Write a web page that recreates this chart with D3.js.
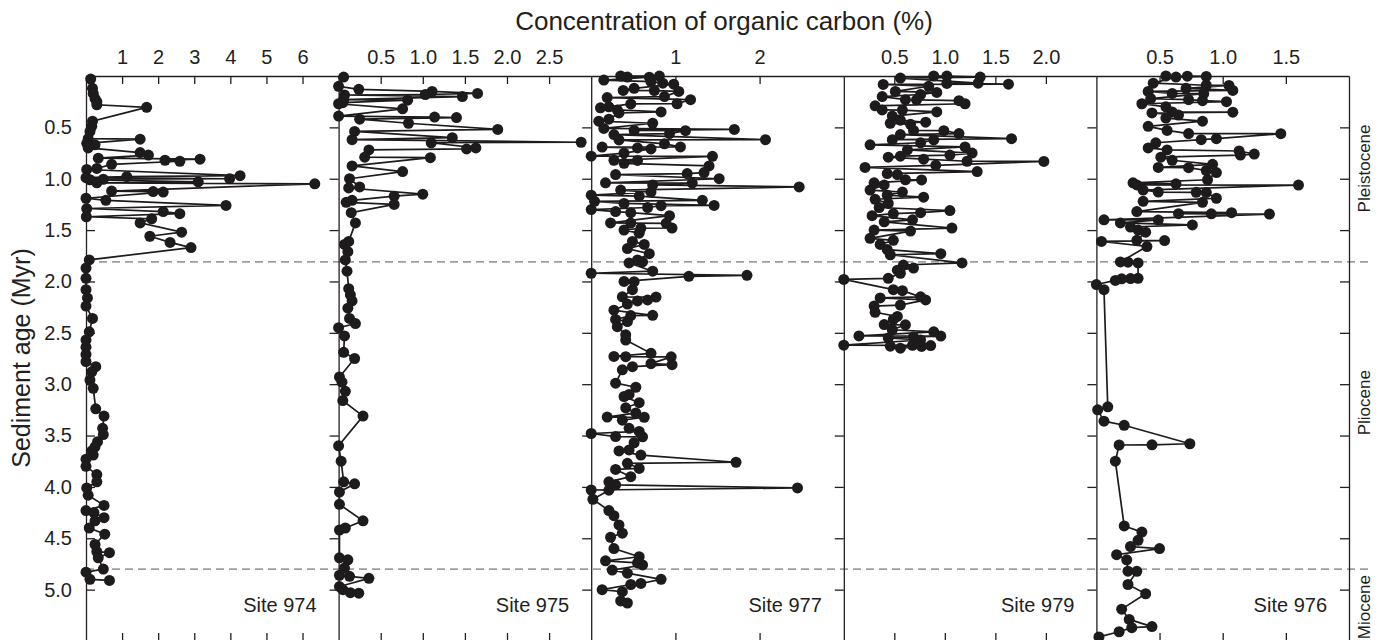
<html>
<script src="https://d3js.org/d3.v7.min.js"></script>
<body>
<style>
  body { margin: 0; background: #fff; font-family: "Liberation Sans", Arial, sans-serif; }
  text { fill: #231f20; }
</style>
<svg width=1382 height=640></svg>
<script>

// [age (Myr), organic carbon (%)]
var site974 = [[0.03,0.13],[0.12,0.18],[0.17,0.2],[0.22,0.25],[0.25,0.3],[0.28,0.3],[0.305,1.68],[0.44,0.18],[0.49,0.16],[0.54,0.11],[0.61,0.06],[0.615,1.5],[0.655,0.02],[0.67,0.25],[0.70,0.06],[0.745,1.5],[0.77,1.73],[0.80,0.34],[0.81,3.16],[0.82,2.19],[0.83,2.6],[0.86,0.71],[0.90,0.3],[0.91,0.02],[0.97,4.27],[0.98,1.13],[0.99,0],[1.0,3.98],[1.005,0.48],[1.01,0.11],[1.03,3.11],[1.04,0.3],[1.05,6.34],[1.12,0.71],[1.125,1.86],[1.13,2.14],[1.19,0],[1.21,0.55],[1.26,3.88],[1.29,0.02],[1.32,2.14],[1.34,2.6],[1.37,0.01],[1.39,1.82],[1.43,1.5],[1.52,2.65],[1.56,1.77],[1.62,2.33],[1.67,2.91],[1.79,0.09],[1.87,0],[1.97,0],[2.08,0],[2.16,0.04],[2.24,0],[2.36,0.18],[2.49,0.09],[2.57,0],[2.64,0],[2.71,0],[2.78,0],[2.83,0.27],[2.88,0.16],[2.96,0.11],[3.04,0.2],[3.24,0.27],[3.31,0.5],[3.43,0.46],[3.49,0.48],[3.56,0.32],[3.61,0.25],[3.65,0.16],[3.69,0.2],[3.73,0],[3.80,0],[3.88,0.3],[3.95,0.3],[4.01,0.02],[4.08,0.06],[4.18,0.5],[4.23,0],[4.25,0.22],[4.30,0.5],[4.33,0.25],[4.40,0.09],[4.46,0.52],[4.56,0.25],[4.63,0.3],[4.64,0.65],[4.69,0.34],[4.80,0.48],[4.83,0],[4.90,0.11],[4.91,0.65]];

var site975 = [[0.01,0.06],[0.10,0],[0.13,0.24],[0.15,1.11],[0.17,1.65],[0.18,1.03],[0.185,0.07],[0.20,1.47],[0.23,0.06],[0.235,0.82],[0.26,0.05],[0.27,0],[0.32,0.76],[0.39,0],[0.40,1.14],[0.405,1.40],[0.42,0.25],[0.46,0.83],[0.52,1.89],[0.54,0.19],[0.60,1.35],[0.62,0.16],[0.645,2.88],[0.65,1.10],[0.70,1.63],[0.71,1.52],[0.72,0.36],[0.79,0.31],[0.795,1.09],[0.875,0.16],[0.93,0.76],[1.0,0.13],[1.08,0.25],[1.09,0.12],[1.15,1.0],[1.17,0.66],[1.21,0.16],[1.23,0.09],[1.25,0.66],[1.33,0.15],[1.43,0.2],[1.61,0.12],[1.64,0.07],[1.71,0.11],[1.79,0.08],[1.90,0.10],[2.07,0.12],[2.13,0.14],[2.19,0.16],[2.26,0.11],[2.36,0.13],[2.41,0.2],[2.45,0],[2.53,0.07],[2.69,0.06],[2.75,0.19],[2.93,0.01],[2.98,0.04],[3.07,0.08],[3.16,0.05],[3.31,0.29],[3.60,0],[3.75,0.03],[3.95,0.06],[3.97,0.19],[4.05,0.01],[4.17,0.01],[4.33,0.29],[4.40,0.08],[4.42,0.01],[4.69,0.01],[4.71,0.11],[4.79,0.07],[4.86,0.01],[4.87,0.13],[4.89,0.36],[4.97,0.01],[5.0,0.05],[5.03,0.14],[5.035,0.24]];

var site977 = [[0.0,0.35],[0.01,0.43],[0.04,0.15],[0.012,0.69],[0.001,0.81],[0.055,0.71],[0.07,0.85],[0.08,0.98],[0.12,0.51],[0.14,0.38],[0.142,0.75],[0.15,1.04],[0.21,0.19],[0.23,1.18],[0.20,0.87],[0.27,1.02],[0.272,0.47],[0.31,0.11],[0.30,0.21],[0.33,0.31],[0.35,0.83],[0.36,0.33],[0.44,0.09],[0.42,0.21],[0.46,0.73],[0.51,0.15],[0.53,0.51],[0.532,1.12],[0.52,1.70],[0.56,0.93],[0.57,0.27],[0.62,2.07],[0.622,0.33],[0.66,0.87],[0.69,1.06],[0.692,0.13],[0.70,0.55],[0.71,0.71],[0.78,0],[0.75,0.39],[0.782,1.44],[0.82,0.27],[0.822,0.55],[0.875,1.40],[0.85,0.39],[0.94,1.34],[0.96,0.29],[0.95,1.14],[1.0,1.52],[1.04,0.17],[1.042,1.20],[1.06,0.73],[1.08,2.47],[1.11,0.35],[1.13,0.71],[1.16,0],[1.17,0.57],[1.21,1.32],[1.22,0.04],[1.30,0],[1.24,0.39],[1.28,0.67],[1.26,1.46],[1.262,0.83],[1.32,0.29],[1.33,0.47],[1.36,0.93],[1.43,0.23],[1.432,0.47],[1.434,0.89],[1.48,0.96],[1.482,0.59],[1.50,0.39],[1.53,0.57],[1.61,0.49],[1.64,0.63],[1.68,0.43],[1.73,0.69],[1.79,0.55],[1.82,0.45],[1.81,0.61],[1.92,0],[1.90,0.73],[1.95,1.16],[1.94,1.85],[2.0,0.39],[2.002,0.51],[2.08,0.49],[2.15,0.37],[2.152,0.77],[2.19,0.55],[2.22,0.43],[2.18,0.67],[2.28,0.27],[2.33,0.73],[2.332,0.47],[2.39,0.43],[2.37,0.29],[2.44,0.31],[2.52,0.41],[2.57,0.41],[2.73,0.27],[2.732,0.41],[2.70,0.71],[2.734,0.95],[2.80,0.71],[2.81,0.96],[2.83,0.49],[2.86,0.37],[2.99,0.29],[3.03,0.53],[3.12,0.39],[3.10,0.45],[3.18,0.57],[3.23,0.41],[3.28,0.53],[3.32,0.19],[3.322,0.63],[3.35,0.37],[3.43,0.45],[3.48,0],[3.51,0.29],[3.46,0.57],[3.512,0.61],[3.57,0.51],[3.65,0.33],[3.64,0.45],[3.69,0.59],[3.76,1.72],[3.77,0.43],[3.82,0.57],[3.83,0.29],[3.90,0.47],[3.95,0.21],[3.98,0.29],[4.01,2.45],[4.03,0],[4.032,0.21],[4.12,0.02],[4.23,0.21],[4.28,0.27],[4.37,0.33],[4.45,0.37],[4.49,0.23],[4.60,0.27],[4.68,0.57],[4.72,0.17],[4.74,0.55],[4.76,0.61],[4.81,0.25],[4.84,0.43],[4.90,0.83],[4.94,0.59],[4.95,0.47],[5.0,0.13],[5.02,0.37],[5.11,0.35],[5.13,0.43]];

var site979 = [[0.0,0.89],[0.001,1.02],[0.01,1.35],[0.02,0.56],[0.07,1.33],[0.072,1.02],[0.08,1.63],[0.082,0.39],[0.10,0.84],[0.15,0.51],[0.16,0.92],[0.18,0.76],[0.20,0.38],[0.23,0.61],[0.232,0.72],[0.24,1.14],[0.27,1.20],[0.29,0.31],[0.33,0.38],[0.332,0.58],[0.35,0.92],[0.39,0.48],[0.43,0.56],[0.45,0.81],[0.46,0.46],[0.47,0.66],[0.53,0.69],[0.532,0.99],[0.56,1.14],[0.57,0.56],[0.61,1.66],[0.62,0.48],[0.622,0.89],[0.65,0.76],[0.67,0.26],[0.69,1.20],[0.72,0.63],[0.75,1.27],[0.77,1.05],[0.78,0.56],[0.79,0.44],[0.81,0.79],[0.83,1.22],[0.832,1.98],[0.87,0.91],[0.89,0.21],[0.93,1.32],[0.95,0.43],[0.96,0.53],[1.01,0.61],[1.012,0.77],[1.04,0.30],[1.06,0.40],[1.11,0.26],[1.13,0.58],[1.16,0.43],[1.18,0.79],[1.20,0.31],[1.24,0.44],[1.28,0.35],[1.31,1.05],[1.33,0.76],[1.34,0.49],[1.36,0.28],[1.40,0.68],[1.42,0.40],[1.48,1.07],[1.50,0.30],[1.51,0.66],[1.58,0.26],[1.60,0.49],[1.64,0.36],[1.69,0.43],[1.73,0.96],[1.74,0.46],[1.82,1.17],[1.84,0.59],[1.87,0.69],[1.89,0.53],[1.92,0.56],[1.97,0.44],[1.98,0],[2.08,0.49],[2.09,0.58],[2.15,0.76],[2.16,0.36],[2.18,0.81],[2.23,0.56],[2.24,0.30],[2.30,0.31],[2.34,0.53],[2.37,0.49],[2.42,0.40],[2.422,0.61],[2.47,0.48],[2.49,0.89],[2.53,0.15],[2.532,0.96],[2.54,0.69],[2.55,0.44],[2.57,0.76],[2.62,0],[2.622,0.68],[2.624,0.86],[2.63,0.46],[2.632,0.77],[2.65,0.56]];

var site976 = [[0.0,0.55],[0.002,0.72],[0.004,0.87],[0.01,0.63],[0.07,0.45],[0.09,0.87],[0.092,1.05],[0.12,0.71],[0.14,1.08],[0.15,0.41],[0.17,0.60],[0.172,0.85],[0.22,0.43],[0.23,0.73],[0.24,0.84],[0.25,1.03],[0.27,0.36],[0.30,0.55],[0.35,0.60],[0.352,1.08],[0.36,0.44],[0.38,0.65],[0.41,0.55],[0.44,0.84],[0.49,0.41],[0.53,0.56],[0.56,0.73],[0.562,1.46],[0.61,0.95],[0.62,0.83],[0.65,0.47],[0.70,0.41],[0.72,0.56],[0.73,1.13],[0.76,1.25],[0.77,1.14],[0.79,0.51],[0.82,0.60],[0.86,0.92],[0.89,0.49],[0.892,0.73],[0.92,0.87],[0.94,0.95],[1.01,0.88],[1.04,0.29],[1.05,0.63],[1.06,0.32],[1.062,1.60],[1.11,0.37],[1.13,0.49],[1.132,0.79],[1.134,0.87],[1.19,0.95],[1.22,0.37],[1.23,0.84],[1.32,0.32],[1.33,1.07],[1.34,0.65],[1.342,0.91],[1.344,1.37],[1.40,0.06],[1.402,0.49],[1.43,0.19],[1.45,0.76],[1.47,0.27],[1.50,0.33],[1.52,0.39],[1.60,0.32],[1.602,0.54],[1.61,0.04],[1.66,0.40],[1.81,0.19],[1.812,0.25],[1.82,0.33],[1.97,0.33],[1.972,0.27],[1.974,0.20],[1.99,0.15],[2.03,0],[2.08,0.06],[3.22,0.09],[3.25,0.01],[3.36,0.06],[3.40,0.22],[3.58,0.74],[3.59,0.44],[3.592,0.18],[3.75,0.15],[4.38,0.22],[4.44,0.36],[4.52,0.33],[4.58,0.27],[4.60,0.50],[4.66,0.16],[4.71,0.24],[4.82,0.25],[4.822,0.32],[4.95,0.25],[5.04,0.39],[5.19,0.20],[5.29,0.26],[5.36,0.44],[5.37,0.28],[5.41,0.18],[5.46,0.02]];

var sites = ["Site 974", "Site 975", "Site 977", "Site 979", "Site 976"];
var siteData = [site974, site975, site977, site979, site976];
var tocMax = [7, 3, 3, 2.5, 2];
var tocTicks = [[1,2,3,4,5,6], [0.5,1,1.5,2,2.5], [1,2], [0.5,1,1.5,2], [0.5,1,1.5]];
var tocFormat = ["d", ".1f", "d", ".1f", ".1f"];
var ageTicks = [0.5,1,1.5,2,2.5,3,3.5,4,4.5,5];
var epochBounds = [1.81, 4.8];
var epochs = ["Pleistocene", "Pliocene", "Miocene"];
var epochMid = [0.9, 3.18, 5.17];

var ink = "#1e1b1c";
var font = "'Liberation Sans', Arial, sans-serif";

var svg = d3.select("svg");

var panel = d3.scaleBand().domain(sites).range([86, 1349]);
var y = d3.scaleLinear().domain([0, 5.5]).range([76, 641]);

function styleAxis(g, size) {
    g.attr("font-family", font).attr("font-size", size).attr("color", "#231f20");
    g.selectAll("line, path").attr("stroke-width", 1.3);
}

// epoch boundaries
svg.selectAll(".bound")
    .data(epochBounds)
    .enter().append("line")
    .attr("x1", 86).attr("x2", 1370)
    .attr("y1", function(d) { return y(d); })
    .attr("y2", function(d) { return y(d); })
    .attr("stroke", "#555").attr("stroke-width", 1)
    .attr("stroke-dasharray", "8,5");

// left axis with age labels
svg.append("g")
    .attr("transform", "translate(86,0)")
    .call(d3.axisLeft(y).tickValues(ageTicks).tickFormat(d3.format(".1f"))
        .tickSizeInner(-9).tickSizeOuter(0).tickPadding(14))
    .call(styleAxis, 20);

sites.forEach(function(name, i) {
    var x0 = panel(name), x1 = x0 + panel.bandwidth();
    var x = d3.scaleLinear().domain([0, tocMax[i]]).range([x0, x1]);

    svg.append("g")
        .attr("transform", "translate(0,76)")
        .call(d3.axisTop(x).tickValues(tocTicks[i]).tickFormat(d3.format(tocFormat[i]))
            .tickSizeInner(-8).tickSizeOuter(0).tickPadding(12))
        .call(styleAxis, 20);

    svg.append("g")
        .attr("transform", "translate(0,641)")
        .call(d3.axisBottom(x).tickValues(tocTicks[i]).tickFormat("")
            .tickSizeInner(-8).tickSizeOuter(0))
        .call(styleAxis, 20);

    svg.append("g")
        .attr("transform", "translate(" + x1 + ",0)")
        .call(d3.axisRight(y).tickValues(ageTicks).tickFormat("")
            .tickSizeInner(-9).tickSizeOuter(0))
        .call(styleAxis, 20);

    var data = d3.sort(siteData[i], function(d) { return d[0]; });

    var line = d3.line()
        .x(function(d) { return x(d[1]); })
        .y(function(d) { return y(d[0]); });

    svg.append("path")
        .datum(data)
        .attr("d", line)
        .attr("fill", "none")
        .attr("stroke", ink)
        .attr("stroke-width", 1.7);

    svg.append("g").selectAll("circle")
        .data(data)
        .enter().append("circle")
        .attr("cx", function(d) { return x(d[1]); })
        .attr("cy", function(d) { return y(d[0]); })
        .attr("r", 5.5)
        .attr("fill", ink);

    svg.append("text")
        .attr("x", x1 - 22).attr("y", 612)
        .attr("text-anchor", "end")
        .style("font-size", "20px")
        .text(name);
});

// titles
svg.append("text")
    .attr("x", 724).attr("y", 30)
    .attr("text-anchor", "middle")
    .style("font-size", "26px")
    .text("Concentration of organic carbon (%)");

svg.append("text")
    .attr("transform", "translate(30,358) rotate(-90)")
    .attr("text-anchor", "middle")
    .style("font-size", "25px")
    .text("Sediment age (Myr)");

// epoch labels
svg.selectAll(".epoch")
    .data(epochs)
    .enter().append("text")
    .attr("transform", function(d, i) { return "translate(1370," + y(epochMid[i]) + ") rotate(-90)"; })
    .attr("text-anchor", "middle")
    .style("font-size", "17px")
    .text(function(d) { return d; });

</script>
</body>
</html>
